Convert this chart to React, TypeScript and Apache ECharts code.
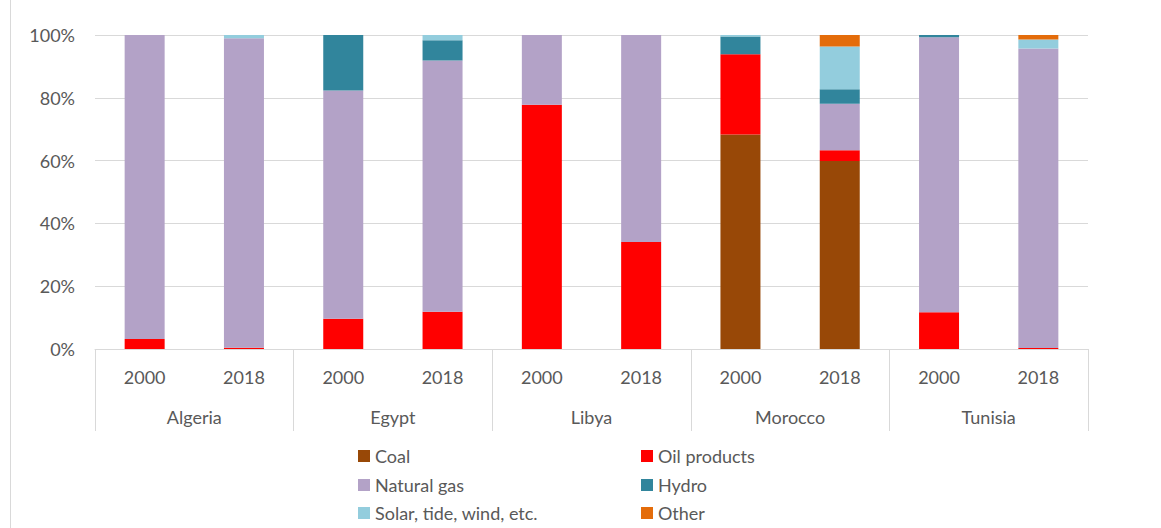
import React, { useEffect, useRef } from "react";
import * as echarts from "echarts";

const countries = ["Algeria", "Egypt", "Libya", "Morocco", "Tunisia"];
const years = ["2000", "2018"];
const categories = countries.flatMap((c) => years.map((y) => `${c}|${y}`));

const coal = [0, 0, 0, 0, 0, 0, 68.3, 59.9, 0, 0];
const oilProducts = [3.2, 0.4, 9.6, 11.9, 77.8, 34.1, 25.6, 3.4, 11.7, 0.3];
const naturalGas = [96.8, 98.6, 72.7, 80.0, 22.2, 65.9, 0, 14.8, 87.6, 95.4];
const hydro = [0, 0, 17.7, 6.4, 0, 0, 5.6, 4.6, 0.7, 0];
const solarTideWind = [0, 1.0, 0, 1.7, 0, 0, 0.5, 13.6, 0, 2.9];
const other = [0, 0, 0, 0, 0, 0, 0, 3.7, 0, 1.4];

const yTicks = { min: 0, max: 100, interval: 20 };

const FONT = "Lato, 'Open Sans', sans-serif";
const TEXT = "#595959";
const GRIDC = "#d9d9d9";

export default function App() {
  const ref = useRef<HTMLDivElement>(null);
  useEffect(() => {
    document.body.style.margin = "0";
    if (!ref.current) return;
    const chart = echarts.init(ref.current, null, { renderer: "svg" });
    const seriesDefs = [
      { name: "Coal", data: coal, color: "#984807" },
      { name: "Oil products", data: oilProducts, color: "#FF0000" },
      { name: "Natural gas", data: naturalGas, color: "#B3A2C7" },
      { name: "Hydro", data: hydro, color: "#31859C" },
      { name: "Solar, tide, wind, etc.", data: solarTideWind, color: "#93CDDD" },
      { name: "Other", data: other, color: "#E46C0A" },
    ];
    const legendCommon = {
      orient: "horizontal" as const,
      itemWidth: 12,
      itemHeight: 12,
      itemGap: 5,
      padding: 0,
      icon: "rect",
      textStyle: { fontFamily: FONT, fontSize: 18, color: TEXT },
      selectedMode: false,
    };
    const legendPos: [string, number, number][] = [
      ["Coal", 358, 447],
      ["Oil products", 641, 447],
      ["Natural gas", 358, 476],
      ["Hydro", 641, 476],
      ["Solar, tide, wind, etc.", 358, 504],
      ["Other", 641, 504],
    ];
    chart.setOption({
      animation: false,
      textStyle: { fontFamily: FONT },
      grid: { left: 95, right: 73, top: 35, bottom: 179 },
      legend: legendPos.map(([name, left, top]) => ({ ...legendCommon, left, top, data: [name] })),
      xAxis: [
        {
          type: "category",
          data: categories,
          axisLine: { show: true, lineStyle: { color: GRIDC, width: 1 } },
          axisTick: { show: false },
          axisLabel: {
            margin: 19,
            fontSize: 18,
            color: TEXT,
            fontFamily: FONT,
            interval: 0,
            formatter: (v: string) => v.split("|")[1],
          },
        },
        {
          type: "category",
          data: countries,
          position: "bottom",
          axisLine: { show: false },
          axisTick: { show: true, length: 82, interval: 0, lineStyle: { color: GRIDC, width: 1 } },
          axisLabel: { margin: 59, fontSize: 18, color: TEXT, fontFamily: FONT, interval: 0 },
        },
      ],
      yAxis: {
        type: "value",
        ...yTicks,
        axisLine: { show: false },
        axisTick: { show: false },
        splitLine: { lineStyle: { color: GRIDC, width: 1 } },
        axisLabel: { margin: 20, fontSize: 18, color: TEXT, fontFamily: FONT, formatter: "{value}%" },
      },
      graphic: [
        {
          type: "line",
          shape: { x1: 10.5, y1: 0, x2: 10.5, y2: 528 },
          style: { stroke: GRIDC, lineWidth: 1 },
        },
      ],
      series: seriesDefs.map((s) => ({
        type: "bar",
        name: s.name,
        stack: "total",
        xAxisIndex: 0,
        data: s.data,
        barWidth: 40,
        itemStyle: { color: s.color },
      })),
    });
    return () => chart.dispose();
  }, []);
  return <div ref={ref} style={{ width: 1161, height: 528 }} />;
}
